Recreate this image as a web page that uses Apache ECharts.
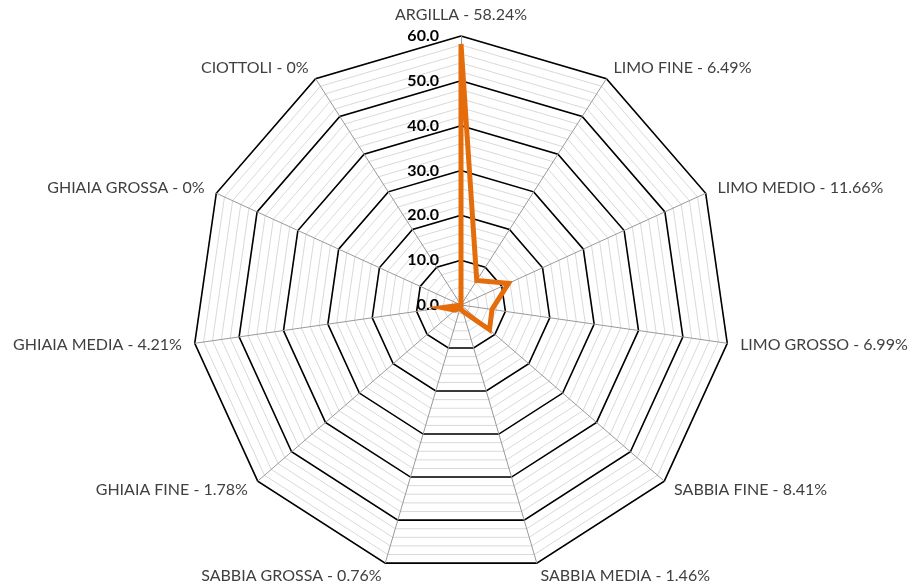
<!DOCTYPE html>
<html>
<head>
<meta charset="utf-8">
<script src="https://cdn.jsdelivr.net/npm/echarts@6/dist/echarts.min.js"></script>
<style>
  html, body { margin: 0; padding: 0; background: #fff; }
  #chart { width: 914px; height: 585px; }
</style>
</head>
<body>
<div id="chart"></div>
<script>
// Particle size classes and their percentages (listed clockwise from the top)
const categories = ['ARGILLA', 'LIMO FINE', 'LIMO MEDIO', 'LIMO GROSSO', 'SABBIA FINE',
  'SABBIA MEDIA', 'SABBIA GROSSA', 'GHIAIA FINE', 'GHIAIA MEDIA', 'GHIAIA GROSSA', 'CIOTTOLI'];
const percentages = [58.24, 6.49, 11.66, 6.99, 8.41, 1.46, 0.76, 1.78, 4.21, 0, 0];
const scaleMax = 60;
const majorStep = 10;
const minorStep = 2;

// ECharts lays radar indicators out counter-clockwise; keep the first one on top
// and walk the rest backwards so the classes read clockwise.
const order = [0].concat(categories.map((_, i) => i).slice(1).reverse());

const chart = echarts.init(document.getElementById('chart'));
const center = [461, 305];
const radius = 269;
const fontFamily = 'Lato, "Noto Sans", sans-serif';

const indicators = (withLabel) => order.map((i, k) => {
  const ind = { name: categories[i] + ' - ' + percentages[i] + '%', max: scaleMax, min: 0 };
  if (withLabel && k === 0) ind.axisLabel = { show: true };
  return ind;
});

chart.setOption({
  animation: false,
  radar: [
    {
      // fine grid: light rings every 2 units, grey spokes
      center, radius, shape: 'polygon', startAngle: 90,
      splitNumber: scaleMax / minorStep,
      indicator: indicators(false),
      axisName: {
        color: '#404040', fontFamily, fontSize: 16
      },
      nameGap: 13,
      axisLine: { lineStyle: { color: '#999', width: 1 } },
      splitLine: { lineStyle: { color: '#d9d9d9', width: 1 } },
      splitArea: { show: false },
      axisLabel: { show: false }
    },
    {
      // major rings every 10 units, with scale labels on the top axis
      center, radius, shape: 'polygon', startAngle: 90,
      splitNumber: scaleMax / majorStep,
      indicator: indicators(true),
      axisName: { show: false },
      axisLine: { show: false },
      splitLine: { lineStyle: { color: '#000', width: 1.6 } },
      splitArea: { show: false },
      axisLabel: {
        show: false, color: '#000', fontWeight: 'bold', fontFamily, fontSize: 16,
        margin: 22, padding: [6, 0, 0, 0],
        formatter: (v) => v.toFixed(1)
      }
    }
  ],
  series: [{
    type: 'radar',
    radarIndex: 1,
    symbol: 'none',
    lineStyle: { color: '#E46C0A', width: 5, join: 'miter' },
    data: [{ value: order.map((i) => percentages[i]) }]
  }]
});
</script>
</body>
</html>
